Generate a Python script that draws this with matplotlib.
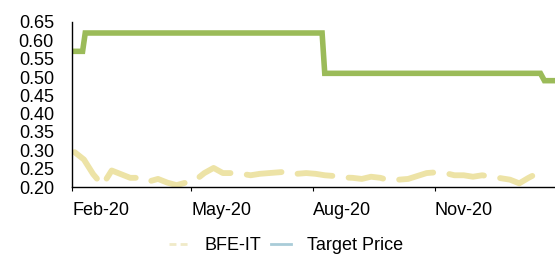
import matplotlib.pyplot as plt
from matplotlib.lines import Line2D
import pandas as pd

plt.rcParams['font.family'] = ['Liberation Sans', 'DejaVu Sans']

# weekly closing prices of BFE-IT
stock_dates = pd.date_range("2020-02-03", periods=52, freq="7D")
stock_values = [0.295, 0.275, 0.235, 0.205, 0.245, 0.235, 0.225, 0.225, 0.215, 0.222,
                0.212, 0.205, 0.212, 0.218, 0.238, 0.252, 0.238, 0.238, 0.236, 0.232,
                0.236, 0.238, 0.240, 0.242, 0.236, 0.238, 0.236, 0.232, 0.230, 0.226,
                0.225, 0.222, 0.228, 0.225, 0.218, 0.220, 0.222, 0.230, 0.238, 0.240,
                0.238, 0.232, 0.232, 0.228, 0.232, 0.228, 0.224, 0.220, 0.210, 0.225,
                0.238, 0.235]

# target price changes
target_dates = pd.to_datetime(["2020-02-01", "2020-02-09", "2020-02-11", "2020-08-08",
                               "2020-08-10", "2021-01-20", "2021-01-23", "2021-02-05"])
target_values = [0.57, 0.57, 0.62, 0.62, 0.51, 0.51, 0.49, 0.49]

tick_dates = pd.to_datetime(["2020-02-01", "2020-05-01", "2020-08-01", "2020-11-01"])
tick_labels = ["Feb-20", "May-20", "Aug-20", "Nov-20"]
y_ticks = [0.20, 0.25, 0.30, 0.35, 0.40, 0.45, 0.50, 0.55, 0.60, 0.65]

# create figure
fig = plt.figure(figsize=(5.55, 2.57), dpi=100)
axes = fig.add_axes([72 / 555, 1 - 187 / 257, 1 - 72 / 555, (187 - 22) / 257])

axes.plot(target_dates, target_values, color='#9BBB59', linewidth=4.0,
          solid_joinstyle='miter')
axes.plot(stock_dates, stock_values, color='#EDE3A6', linewidth=4.2,
          dashes=(6.0, 2.8), dash_capstyle='round', solid_joinstyle='round')

axes.set_ylim(0.20, 0.65)
axes.set_xlim(pd.Timestamp("2020-02-01"), pd.Timestamp("2021-01-31"))
axes.set_yticks(y_ticks)
axes.set_yticklabels([f"{v:.2f}" for v in y_ticks])
axes.set_xticks(tick_dates)
axes.set_xticklabels(tick_labels, ha='left')

for side in ['top', 'right']:
    axes.spines[side].set_visible(False)
for side in ['left', 'bottom']:
    axes.spines[side].set_color('black')
    axes.spines[side].set_linewidth(1.0)

axes.tick_params(axis='y', length=0, pad=13, labelsize=13, colors='black')
axes.tick_params(axis='x', length=3, pad=8, labelsize=13, colors='black')

handles = [Line2D([], [], color='#F0EAC8', linewidth=2.0, dashes=(2.5, 1.5)),
           Line2D([], [], color='#A9CCD8', linewidth=2.0)]
fig.legend(handles, ["BFE-IT", "Target Price"], loc='center',
           bbox_to_anchor=(0.515, 1 - 246 / 257), ncol=2, frameon=False,
           fontsize=13, handlelength=1.1, handletextpad=0.9, columnspacing=0.5,
           borderpad=0)

fig.savefig("out.png", dpi=100)
